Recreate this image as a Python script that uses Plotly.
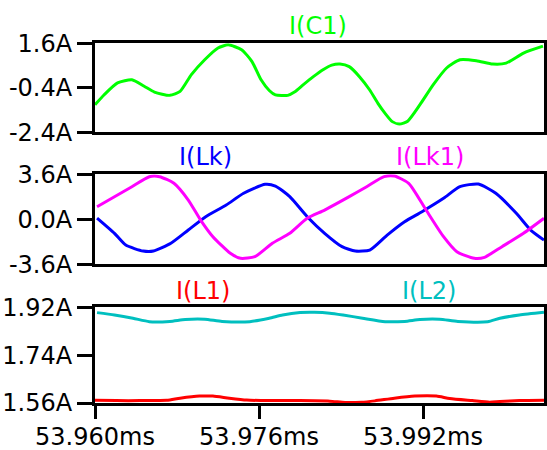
import plotly.graph_objects as go

# ---- data (time in ms, current in A) ----
t_c1 = [53.9600, 53.9609, 53.9622, 53.9636, 53.9648, 53.9658, 53.9673, 53.9683, 53.9694,
        53.9707, 53.9720, 53.9730, 53.9743, 53.9753, 53.9762, 53.9770, 53.9776, 53.9788,
        53.9795, 53.9803, 53.9813, 53.9822, 53.9831, 53.9839, 53.9848, 53.9858, 53.9868,
        53.9876, 53.9883, 53.9890, 53.9897, 53.9905, 53.9917, 53.9930, 53.9943, 53.9956,
        53.9972, 53.9988, 54.0001, 54.0018, 54.0037]
i_c1 = [-1.16, -0.71, -0.18, -0.04, -0.33, -0.59, -0.74, -0.56, 0.19,
        0.86, 1.39, 1.53, 1.31, 0.79, -0.04, -0.52, -0.72, -0.74,
        -0.58, -0.27, 0.10, 0.40, 0.62, 0.67, 0.55, 0.10, -0.50,
        -1.10, -1.55, -1.92, -2.03, -1.90, -1.16, -0.26, 0.49, 0.86,
        0.82, 0.67, 0.71, 1.16, 1.47]

t_lk = [53.9602, 53.9619, 53.9630, 53.9647, 53.9657, 53.9674, 53.9691, 53.9708, 53.9728,
        53.9745, 53.9766, 53.9776, 53.9790, 53.9807, 53.9824, 53.9841, 53.9854, 53.9868,
        53.9885, 53.9902, 53.9919, 53.9940, 53.9956, 53.9974, 53.9991, 54.0011, 54.0025, 54.0038]
i_lk = [0.10, -1.12, -2.06, -2.54, -2.54, -1.92, -0.86, 0.21, 1.14,
        2.08, 2.80, 2.66, 1.81, 0.21, -1.12, -2.19, -2.54, -2.46,
        -1.26, -0.19, 0.61, 1.68, 2.61, 2.82, 2.08, 0.48, -0.86, -1.66]

t_lk1 = [53.9602, 53.9619, 53.9636, 53.9653, 53.9663, 53.9677, 53.9691, 53.9703, 53.9715,
         53.9732, 53.9742, 53.9756, 53.9773, 53.9790, 53.9807, 53.9824, 53.9848, 53.9865,
         53.9882, 53.9892, 53.9906, 53.9923, 53.9940, 53.9953, 53.9970, 53.9980, 53.9997,
         54.0018, 54.0038]
i_lk1 = [1.01, 1.81, 2.61, 3.41, 3.41, 2.88, 1.54, -0.06, -1.39,
         -2.72, -3.12, -2.99, -1.92, -1.12, 0.08, 0.74, 1.81, 2.61,
         3.41, 3.46, 2.88, 0.74, -1.39, -2.59, -3.12, -3.04, -2.19,
         -1.12, 0.08]

t_l1 = [53.9600, 53.9621, 53.9644, 53.9670, 53.9683, 53.9702, 53.9715, 53.9731, 53.9748,
        53.9770, 53.9800, 53.9829, 53.9844, 53.9860, 53.9873, 53.9892, 53.9912, 53.9933,
        53.9946, 53.9968, 53.9985, 53.9995, 54.0014, 54.0038]
i_l1 = [1.570, 1.569, 1.569, 1.570, 1.578, 1.586, 1.586, 1.578, 1.571,
        1.569, 1.569, 1.567, 1.562, 1.563, 1.568, 1.578, 1.586, 1.586,
        1.577, 1.569, 1.563, 1.566, 1.569, 1.570]

t_l2 = [53.9602, 53.9619, 53.9637, 53.9653, 53.9673, 53.9688, 53.9707, 53.9724, 53.9751,
        53.9770, 53.9783, 53.9800, 53.9814, 53.9829, 53.9842, 53.9861, 53.9883, 53.9902,
        53.9917, 53.9936, 53.9954, 53.9983, 53.9995, 54.0014, 54.0038]
i_l2 = [1.900, 1.891, 1.879, 1.866, 1.867, 1.874, 1.875, 1.867, 1.866,
        1.879, 1.891, 1.900, 1.901, 1.898, 1.891, 1.879, 1.866, 1.867,
        1.874, 1.875, 1.867, 1.866, 1.879, 1.891, 1.901]

x_tickvals = [53.960, 53.976, 53.992]
x_ticktext = ["53.960ms", "53.976ms", "53.992ms"]
y1_tickvals = [1.6, -0.4, -2.4]
y1_ticktext = ["1.6A", "-0.4A", "-2.4A"]
y2_tickvals = [3.6, 0.0, -3.6]
y2_ticktext = ["3.6A", "0.0A", "-3.6A"]
y3_tickvals = [1.92, 1.74, 1.56]
y3_ticktext = ["1.92A", "1.74A", "1.56A"]

C_GREEN = "#00ff00"
C_BLUE = "#0000ff"
C_MAG = "#ff00ff"
C_RED = "#ff0000"
C_TEAL = "#00bfbf"

FONT = "DejaVu Sans"
FS = 24

fig = go.Figure()
line_kw = dict(width=3, shape="spline", smoothing=0.6)
fig.add_trace(go.Scatter(x=t_c1, y=i_c1, mode="lines", line=dict(color=C_GREEN, **line_kw),
                         xaxis="x", yaxis="y"))
fig.add_trace(go.Scatter(x=t_lk, y=i_lk, mode="lines", line=dict(color=C_BLUE, **line_kw),
                         xaxis="x2", yaxis="y2"))
fig.add_trace(go.Scatter(x=t_lk1, y=i_lk1, mode="lines", line=dict(color=C_MAG, **line_kw),
                         xaxis="x2", yaxis="y2"))
fig.add_trace(go.Scatter(x=t_l2, y=i_l2, mode="lines", line=dict(color=C_TEAL, **line_kw),
                         xaxis="x3", yaxis="y3"))
fig.add_trace(go.Scatter(x=t_l1, y=i_l1, mode="lines", line=dict(color=C_RED, **line_kw),
                         xaxis="x3", yaxis="y3"))

FIG_W, FIG_H = 547, 450
ML, MR, MT = 95, 3, 0
PLOT_BOTTOM = 403
MB = FIG_H - PLOT_BOTTOM
H_PLOT = PLOT_BOTTOM - MT
W_PLOT = FIG_W - ML - MR

def dom(top_px, bot_px):
    return [(PLOT_BOTTOM - bot_px) / H_PLOT, (PLOT_BOTTOM - top_px) / H_PLOT]

xr = [53.960, 54.0038]
ax_common = dict(showline=True, linecolor="black", linewidth=3, mirror=True,
                 showgrid=False, zeroline=False, automargin=False)
xnotick = dict(range=xr, showticklabels=False, ticks="", **ax_common)

def yax(rng, tv, tt, d, anchor):
    return dict(range=rng, domain=d, anchor=anchor, tickmode="array", tickvals=tv, ticktext=tt,
                ticks="outside", ticklen=15, tickwidth=3, tickcolor="black",
                tickfont=dict(family=FONT, size=FS, color="black"), **ax_common)

fig.update_layout(
    template="none",
    width=FIG_W, height=FIG_H,
    margin=dict(l=ML, r=MR, t=MT, b=MB, pad=0),
    paper_bgcolor="white", plot_bgcolor="white",
    showlegend=False,
    xaxis=dict(anchor="y", **xnotick),
    xaxis2=dict(anchor="y2", matches="x", **xnotick),
    xaxis3=dict(anchor="y3", matches="x", range=xr, tickmode="array", tickvals=x_tickvals,
                ticktext=x_ticktext, ticks="outside", ticklen=13, tickwidth=3, tickcolor="black",
                ticklabelstandoff=-3,
                tickfont=dict(family=FONT, size=FS, color="black"), **ax_common),
    yaxis=yax([-2.4, 1.6], y1_tickvals, y1_ticktext, dom(43.3, 132.3), "x"),
    yaxis2=yax([-3.6, 3.6], y2_tickvals, y2_ticktext, dom(174.3, 264.3), "x2"),
    yaxis3=yax([1.56, 1.92], y3_tickvals, y3_ticktext, dom(307.3, 403.0), "x3"),
)

def label(text, xpx, ypx, color):
    fig.add_annotation(text=text, xref="paper", yref="paper",
                       x=(xpx - ML) / W_PLOT, y=(PLOT_BOTTOM - ypx) / H_PLOT,
                       xanchor="center", yanchor="middle", showarrow=False,
                       font=dict(family=FONT, size=FS, color=color))

label("I(C1)", 317.5, 26, C_GREEN)
label("I(Lk)", 205, 157, C_BLUE)
label("I(Lk1)", 430, 157, C_MAG)
label("I(L1)", 203, 291, C_RED)
label("I(L2)", 429, 291, C_TEAL)

fig.write_html("out.html", config={"displayModeBar": False},
               post_script="document.body.style.margin='0';")
